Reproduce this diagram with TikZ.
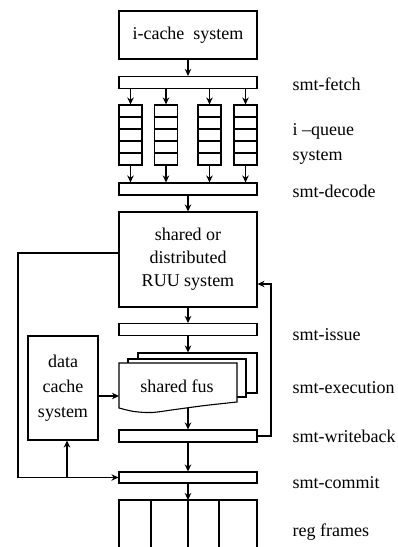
\documentclass[tikz,border=0pt]{standalone}
\usepackage{fontspec}
\setmainfont{LiberationSerif-Regular.ttf}
\usetikzlibrary{arrows.meta}
\begin{document}
\begin{tikzpicture}[>={Stealth[length=7pt,width=6.5pt]}, x=1pt, y=-1pt, line width=1.1pt,
    every node/.style={font=\fontsize{18}{24}\selectfont},
    blk/.style={draw, minimum width=138pt, inner sep=0pt, align=center},
    bar/.style={blk, minimum height=12pt},
    lbl/.style={anchor=base west, inner sep=0pt}]
\useasboundingbox (0,0) rectangle (398,547);
% pipeline blocks
\node[blk, minimum height=48pt] (icache) at (188,35) {i-cache\ \ system};
\node[bar] (fetch) at (188,82.5) {};
\node[bar] (decode) at (188,189) {};
\node[blk, minimum height=95pt, font=\fontsize{18}{23}\selectfont] (ruu) at (188,259.5) {shared or\\distributed\\RUU system};
\node[bar] (issue) at (188,329.5) {};
\node[bar] (wback) at (188,436) {};
\node[bar, minimum height=11pt] (commit) at (188,477.5) {};
\node[draw, minimum width=70pt, minimum height=104pt, align=center, font=\fontsize{18}{25}\selectfont] (dcache) at (63,388) {data\\cache\\system};
% i-queues
\foreach \x [count=\i] in {130.5,166,209.5,245.5}{
    \node[draw, minimum width=23pt, minimum height=60pt, inner sep=0pt] (q\i) at (\x,135) {};
    \foreach \y in {117,129,141,153} \draw (q\i.west |- 0,\y) -- (q\i.east |- 0,\y);
    \draw[->] (q\i |- fetch.south) -- (q\i.north);
    \draw[->] (q\i.south) -- (q\i |- decode.north);
}
% shared fus, stacked sheets
\node[draw, fill=white, minimum width=119pt, minimum height=40pt, inner sep=0pt] (fus3) at (197.5,373) {};
\node[draw, fill=white, minimum width=118pt, minimum height=38pt, inner sep=0pt] (fus2) at (187,378) {};
\draw[fill=white] (237,402) -- (237,363) -- (119,363) -- (119,408)
    -- plot[smooth] coordinates {(119,408) (134,411.5) (152,412.5) (175,409.5) (205,405.5) (237,402)} -- cycle;
\node (fus) at (177,386) {shared fus};
\coordinate (fusin) at (119,396);
\coordinate (fusout) at (188,407.5);
% register frames
\coordinate (regs) at (188,500);
\draw (119,547) -- (119,500) -- (257,500) -- (257,547);
\foreach \x in {151,188,219} \draw (\x,500) -- (\x,547);
% flow
\draw[->] (icache.south) -- (fetch.north);
\draw[->] (decode.south) -- (ruu.north);
\draw[->] (ruu.south) -- (issue.north);
\draw[->] (issue.south) -- (fus3.north -| issue);
\draw[->] (dcache.east |- fusin) -- (fusin);
\draw[->] (fusout) -- (wback.north);
\draw[->] (wback.south) -- (commit.north);
\draw[->] (commit.south) -- (regs);
% feedback paths
\coordinate (lt) at (18,253);
\coordinate (tap) at (67,477.5);
\coordinate (rt) at (271,284);
\draw[->] (ruu.west |- lt) -- (lt) -- (lt |- commit) -- (commit.west);
\draw[->] (tap) -- (tap |- dcache.south);
\draw[->] (wback.east) -- (wback.east -| rt) -- (rt) -- (rt -| ruu.east);
% stage labels
\node[lbl] at (292,90) {smt-fetch};
\node[lbl] at (292,135) {i --queue};
\node[lbl] at (292,160) {system};
\node[lbl] at (292,197) {smt-decode};
\node[lbl] at (292,340) {smt-issue};
\node[lbl] at (292,393) {smt-execution};
\node[lbl] at (292,442) {smt-writeback};
\node[lbl] at (292,488) {smt-commit};
\node[lbl] at (292,536) {reg frames};
\end{tikzpicture}
\end{document}
